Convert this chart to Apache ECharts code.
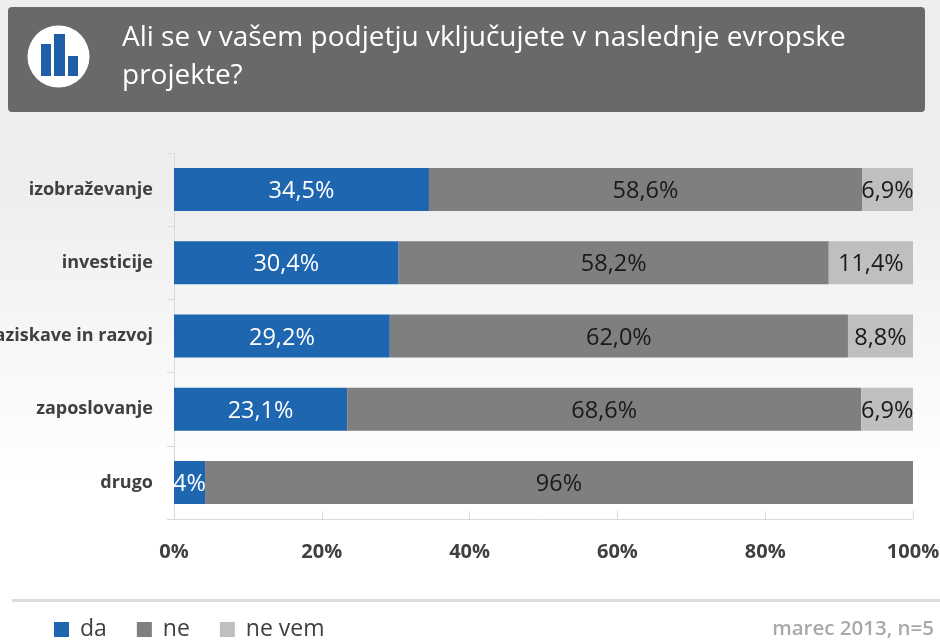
<!DOCTYPE html>
<html><head><meta charset="utf-8">
<style>html,body{margin:0;padding:0;background:#fff}#c{width:940px;height:640px}</style>
<script src="https://cdn.jsdelivr.net/npm/echarts@6/dist/echarts.min.js"></script>
</head><body><div id="c"></div>
<script>
const categories = ['izobraževanje','investicije','raziskave in razvoj','zaposlovanje','drugo'];
const da = [34.5,30.4,29.2,23.1,4.2];
const ne = [58.6,58.2,62.0,68.6,95.8];
const neVem = [6.9,11.4,8.8,6.9,0];
const daLabels = ['34,5%','30,4%','29,2%','23,1%','4%'];
const neLabels = ['58,6%','58,2%','62,0%','68,6%','96%'];
const neVemLabels = ['6,9%','11,4%','8,8%','6,9%',''];
const seriesNames = ['da','ne','ne vem'];
const titleText = 'Ali se v vašem podjetju vključujete v naslednje evropske\nprojekte?';
const footerText = 'marec 2013, n=5';
const font = '"Open Sans","Noto Sans",sans-serif';

const totals = da.map((v,i)=>v+ne[i]+neVem[i]);
const mk = (name, arr, labels, color, labelColor) => ({
  name, type:'bar', stack:'t', barWidth:43,
  itemStyle:{color},
  label:{show:true, position:'inside', offset:[0,2], color:labelColor, fontFamily:font, fontSize:23.5,
    formatter:p=>labels[p.dataIndex]},
  data:arr.map((v,i)=>v/totals[i]*100)
});
const chart = echarts.init(document.getElementById('c'), null, {renderer:'canvas'});
chart.setOption({
  animation:false,
  backgroundColor:{type:'linear',x:0,y:0,x2:0,y2:1,colorStops:[{offset:0,color:'#eeeeee'},{offset:0.3,color:'#eeeeee'},{offset:0.75,color:'#ffffff'},{offset:1,color:'#ffffff'}]},
  grid:{left:174,top:153,width:739,height:366,containLabel:false,outerBoundsMode:'none'},
  legend:{left:54,top:618,padding:0,itemWidth:15,itemHeight:15,itemGap:30,icon:'rect',
    data:seriesNames,
    textStyle:{color:'#404040',fontFamily:font,fontSize:23,padding:[0,0,0,6]}},
  xAxis:{type:'value',min:0,max:100,interval:20,
    axisLine:{show:true,lineStyle:{color:'#d9d9d9',width:1}},
    axisTick:{show:true,inside:true,length:8,lineStyle:{color:'#d9d9d9'}},
    splitLine:{show:false},
    axisLabel:{margin:23,color:'#404040',fontFamily:font,fontWeight:'bold',fontSize:20,formatter:'{value}%',
      showMinLabel:true,showMaxLabel:true,alignMinLabel:'center',alignMaxLabel:'center'}},
  yAxis:{type:'category',inverse:true,data:categories,
    axisLine:{show:true,lineStyle:{color:'#d9d9d9',width:1}},
    axisTick:{show:true,length:7,lineStyle:{color:'#d9d9d9'}},
    axisLabel:{margin:21,color:'#404040',fontFamily:font,fontWeight:'bold',fontSize:18}},
  series:[mk('da',da,daLabels,'#1f66b0','#ffffff'),mk('ne',ne,neLabels,'#7f7f7f','#1a1a1a'),mk('ne vem',neVem,neVemLabels,'#bfbfbf','#1a1a1a')],
  graphic:[
    {type:'rect',z:1,shape:{x:8,y:7,width:917,height:105,r:4},style:{fill:'#696969'}},
    {type:'circle',z:2,shape:{cx:58.5,cy:56.5,r:31},style:{fill:'#ffffff'}},
    {type:'rect',z:3,shape:{x:41,y:44,width:10,height:32},style:{fill:'#1f5fa8'}},
    {type:'rect',z:3,shape:{x:54,y:34,width:11,height:42},style:{fill:'#1f5fa8'}},
    {type:'rect',z:3,shape:{x:68,y:56,width:10,height:20},style:{fill:'#1f5fa8'}},
    {type:'text',z:3,x:122,y:19,style:{text:titleText,fill:'#ffffff',font:'28px '+font,lineHeight:38}},
    {type:'rect',z:1,shape:{x:12,y:599,width:928,height:3},style:{fill:'#dcdcdc'}},
    {type:'text',z:3,x:934,y:619,style:{text:footerText,fill:'#a9a9a9',align:'right',font:'600 20.5px '+font}}
  ]
});
</script></body></html>
